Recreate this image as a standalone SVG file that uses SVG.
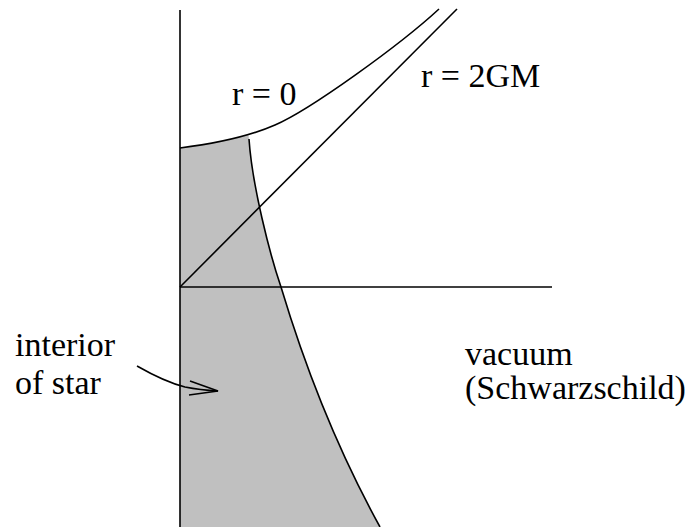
<svg xmlns="http://www.w3.org/2000/svg" width="693" height="527" viewBox="0 0 693 527">
<style>
.ln{fill:none;stroke:#000;stroke-width:1.6}
text{font-family:'Liberation Serif','Times New Roman','DejaVu Serif',serif;font-size:34px;fill:#000}
</style>
<rect width="693" height="527" fill="#fff"/>
<g id="star-interior">
<path d="M180,148 C206.8,144.65 229.1,140.4 248.4,134.65 L249,139 C252,185 270,255 281,287 C305,367 336,447 380,527 L180,527 Z" fill="#c0c0c0"/>
</g>
<g id="connectors">
<path class="ln" d="M180,10 L180,527"/>
<path class="ln" d="M180,287 L552,287"/>
<path class="ln" d="M180,287 L457,9"/>
<path class="ln" d="M180,148 C220,143 250,136 275,125 C310,110 400,45 439,9"/>
<path class="ln" d="M249,139 C252,185 270,255 281,287 C305,367 336,447 380,527"/>
<path class="ln" d="M137,366 Q165,382 185,387 Q200,390 218,391"/>
<path class="ln" d="M190,381 L218,391 L189,395"/>
</g>
<g id="label-r0"><text x="232" y="105">r = 0</text></g>
<g id="label-r2gm"><text x="421" y="87">r = 2GM</text></g>
<g id="label-interior"><text x="15" y="356">interior</text><text x="15" y="394">of star</text></g>
<g id="label-vacuum"><text x="465" y="365">vacuum</text><text x="465" y="399">(Schwarzschild)</text></g>
</svg>
